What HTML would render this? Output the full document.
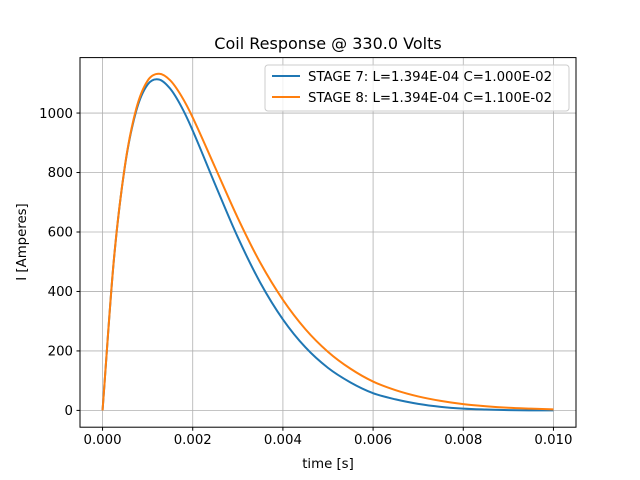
<!DOCTYPE html>
<html><head><meta charset="utf-8"><style>
body{margin:0;background:#fff;}
svg{display:block;font-family:"DejaVu Sans","Liberation Sans",sans-serif;}
</style></head><body>
<svg id="chart" width="640" height="480">
<rect width="640" height="480" fill="#fff"/>
<g id="grid"></g>
<g id="series"></g>
<rect x="80" y="57.6" width="496" height="369.6" fill="none" stroke="#000" stroke-width="1"/>
<g id="ticks"></g>
<text x="328" y="49" text-anchor="middle" font-size="16">Coil Response @ 330.0 Volts</text>
<text x="328" y="468" text-anchor="middle" font-size="13.3">time [s]</text>
<text transform="translate(26,242) rotate(-90)" text-anchor="middle" font-size="13.3">I [Amperes]</text>
<g>
<rect x="265" y="65" width="304" height="46" rx="3" fill="#fff" fill-opacity="0.8" stroke="#ccc"/>
<g>
<line x1="272" y1="76" x2="300" y2="76" stroke="#1f77b4" stroke-width="2"/>
<text x="308" y="81" font-size="13.3">STAGE 7: L=1.394E-04 C=1.000E-02</text></g>
<g>
<line x1="272" y1="97" x2="300" y2="97" stroke="#ff7f0e" stroke-width="2"/>
<text x="308" y="102" font-size="13.3">STAGE 8: L=1.394E-04 C=1.100E-02</text></g>
</g>
</svg>
<script>
const times=[0,0.00025,0.0005,0.00075,0.001,0.00125,0.0015,0.00175,0.002,0.0025,0.003,0.0035,0.004,0.0045,0.005,0.0055,0.006,0.0065,0.007,0.0075,0.008,0.0085,0.009,0.0095,0.010];
const stage7=[0,504,825,1009,1096,1113,1082,1021,941,759,582,429,306,212,143,94,58,37,22,12,6,3,1,0.2,0];
const stage8=[0,505,827,1016,1109,1132,1110,1057,985,816,647,496,372,273,197,140,97,68,47,32,21,14,9,6,3.5];
const xTicks=[0,0.002,0.004,0.006,0.008,0.010];
const xTickLabels=["0.000","0.002","0.004","0.006","0.008","0.010"];
const yTicks=[0,200,400,600,800,1000];
const yTickLabels=["0","200","400","600","800","1000"];
const NS="http://www.w3.org/2000/svg";
const X0=80,X1=576,Y0=427.2,Y1=57.6,xmin=-0.0005,xmax=0.0105,ymin=-56.5,ymax=1186.5;
const sx=v=>X0+(v-xmin)/(xmax-xmin)*(X1-X0);
const sy=v=>Y0-(v-ymin)/(ymax-ymin)*(Y0-Y1);
function mk(tag,attrs,parent){const e=document.createElementNS(NS,tag);for(const k in attrs)e.setAttribute(k,attrs[k]);parent.appendChild(e);return e;}
const grid=document.getElementById('grid'),ticks=document.getElementById('ticks'),series=document.getElementById('series');
xTicks.forEach((t,i)=>{const x=sx(t);
const g=mk('line',{x1:x,x2:x,y1:Y1,y2:Y0,stroke:'#b0b0b0','stroke-width':0.8},grid);


mk('line',{x1:x,x2:x,y1:Y0,y2:Y0+3.5,stroke:'#000'},ticks);
const l=mk('text',{x:x,y:Y0+17,'text-anchor':'middle','font-size':13.3},ticks);l.textContent=xTickLabels[i];

});
yTicks.forEach((t,i)=>{const y=sy(t);
const g=mk('line',{x1:X0,x2:X1,y1:y,y2:y,stroke:'#b0b0b0','stroke-width':0.8},grid);


mk('line',{x1:X0-3.5,x2:X0,y1:y,y2:y,stroke:'#000'},ticks);
const l=mk('text',{x:X0-7,y:y+4.7,'text-anchor':'end','font-size':13.3},ticks);l.textContent=yTickLabels[i];

});
function pathFor(vals){const p=times.map((t,i)=>[sx(t),sy(vals[i])]);let d='M'+p[0][0]+','+p[0][1];
for(let i=0;i<p.length-1;i++){const a=p[Math.max(i-1,0)],b=p[i],c=p[i+1],e=p[Math.min(i+2,p.length-1)];
const h=c[0]-b[0];
const m1=(c[1]-a[1])/(c[0]-a[0]||1),m2=(e[1]-b[1])/(e[0]-b[0]||1);
const c1=[b[0]+h/3,b[1]+m1*h/3],c2=[c[0]-h/3,c[1]-m2*h/3];
d+=` C${c1[0]},${c1[1]} ${c2[0]},${c2[1]} ${c[0]},${c[1]}`;}return d;}
const s7=mk('path',{d:pathFor(stage7),fill:'none',stroke:'#1f77b4','stroke-width':2},series);


const s8=mk('path',{d:pathFor(stage8),fill:'none',stroke:'#ff7f0e','stroke-width':2},series);


</script>
</body></html>
